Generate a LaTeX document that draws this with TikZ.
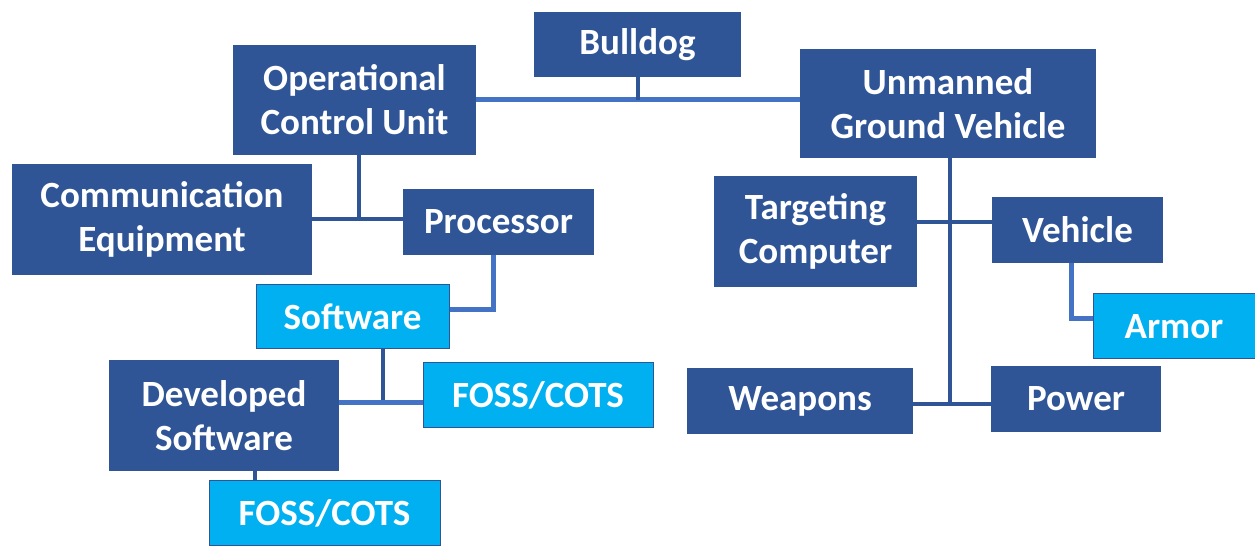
\documentclass[tikz,border=0pt]{standalone}
\usepackage{fontspec}
\setmainfont{Carlito}
\definecolor{navy}{HTML}{2F5597}
\definecolor{sky}{HTML}{00B0F0}
\definecolor{linkblue}{HTML}{4472C4}
\begin{document}
\begin{tikzpicture}[x=1pt, y=1pt, line cap=butt, line join=miter,
    box/.style={fill=navy, text=white, align=center, inner sep=0pt,
      font=\bfseries\fontsize{37}{44}\selectfont},
    leafbox/.style={box, fill=sky, draw=navy, line width=1pt},
    link/.style={draw=navy, line width=4pt},
    lightlink/.style={draw=linkblue, line width=5pt}]
  \useasboundingbox (0,0) rectangle (1255,548);
  % top level
  \node[box, minimum width=207, minimum height=65] (bulldog) at (637.5,503.5) {Bulldog};
  \node[box, minimum width=243, minimum height=110] (ocu) at (354.5,448) {Operational\\Control Unit};
  \node[box, minimum width=296, minimum height=109] (ugv) at (948,444.5) {Unmanned\\Ground Vehicle};
  % control unit side
  \node[box, minimum width=300, minimum height=111] (commeq) at (162,328.5) {Communication\\Equipment};
  \node[box, minimum width=191, minimum height=66] (processor) at (498.5,326) {Processor};
  \node[leafbox, minimum width=193, minimum height=64] (software) at (352.5,231) {Software};
  \node[leafbox, minimum width=230, minimum height=65] (fossa) at (538,152.5) {FOSS/COTS};
  \node[box, minimum width=230, minimum height=111] (devsw) at (224,132.5) {Developed\\Software};
  \node[leafbox, minimum width=231, minimum height=65] (fossb) at (324.5,34.5) {FOSS/COTS};
  % vehicle side
  \node[box, minimum width=203, minimum height=111] (targeting) at (815.5,316.5) {Targeting\\Computer};
  \node[box, minimum width=171, minimum height=66] (vehicle) at (1077.5,318) {Vehicle};
  \node[leafbox, minimum width=162, minimum height=65] (armor) at (1174,221.5) {Armor};
  \node[box, minimum width=226, minimum height=66] (weapons) at (800,147) {Weapons};
  \node[box, minimum width=170, minimum height=66] (power) at (1076,149) {Power};
  % connectors
  \draw[lightlink] (ocu.east) -- (ocu.east -| ugv.west);
  \draw[link] (bulldog.south) -- (bulldog.south |- ocu.east);
  \draw[link] ([xshift=4pt]ocu.south) -- ([xshift=4pt]ocu.south |- commeq.east);
  \draw[link] (commeq.east) -- (commeq.east -| processor.west);
  \draw[lightlink] ([yshift=7pt]software.east) -| ([xshift=-5pt]processor.south);
  \draw[link] ([xshift=30pt]software.south) -- +(0,-56);
  \draw[lightlink] ([yshift=-7pt]fossa.west) -- ([yshift=-7pt]fossa.west -| devsw.east);
  \draw[link] ([xshift=31pt]devsw.south) -- ([xshift=31pt]devsw.south |- fossb.north);
  \draw[link] ([xshift=2pt]ugv.south) -- +(0,-247);
  \draw[link] ([yshift=9pt]targeting.east) -- ([yshift=9pt]targeting.east -| vehicle.west);
  \draw[link] ([yshift=-3pt]weapons.east) -- ([yshift=-3pt]weapons.east -| power.west);
  \draw[lightlink] ([yshift=8pt]armor.west) -| ([xshift=-6pt]vehicle.south);
\end{tikzpicture}
\end{document}
